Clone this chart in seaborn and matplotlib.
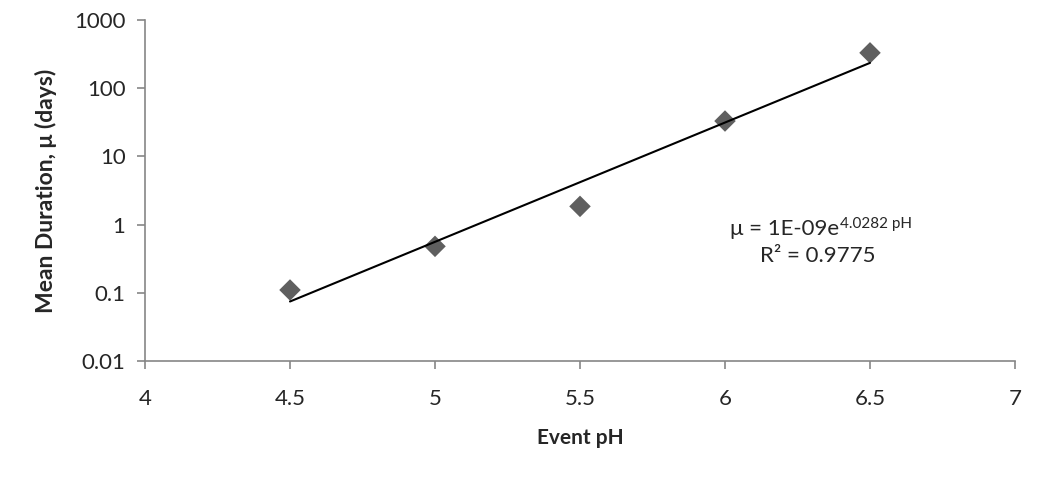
import numpy as np
import pandas as pd
import seaborn as sns
import matplotlib.pyplot as plt
from matplotlib.transforms import offset_copy

# values
ph = [4.5, 5.0, 5.5, 6.0, 6.5]
duration = [0.11, 0.48, 1.85, 33, 330]

# exponential trendline shown on the chart
trend_a = 1e-9
trend_b = 4.0282
r2 = 0.9775

sns.set_style("white")
plt.rcParams['font.family'] = ['Lato', 'DejaVu Sans']

df = pd.DataFrame({"pH": ph, "mu": duration})
xs = np.linspace(ph[0], ph[-1], 100)
trend = pd.DataFrame({"pH": xs, "mu": trend_a * np.exp(trend_b * xs)})

fig = plt.figure(figsize=(10.52, 4.79), dpi=100)
ax = fig.add_axes([145 / 1052, 1 - 361 / 479, 870 / 1052, 341 / 479])

sns.scatterplot(data=df, x="pH", y="mu", marker="D", s=120, color="#5f5f5f",
                edgecolor="none", ax=ax, zorder=2)
sns.lineplot(data=trend, x="pH", y="mu", color="black", linewidth=1.5, ax=ax, zorder=3)

ax.set_yscale("log")
ax.set_xlim(4, 7)
ax.set_ylim(0.01, 1000)
ax.set_xticks([4, 4.5, 5, 5.5, 6, 6.5, 7])
ax.set_xticklabels(["4", "4.5", "5", "5.5", "6", "6.5", "7"])
ax.set_yticks([0.01, 0.1, 1, 10, 100, 1000])
ax.set_yticklabels(["0.01", "0.1", "1", "10", "100", "1000"])
ax.minorticks_off()

for s in ["top", "right"]:
    ax.spines[s].set_visible(False)
for s in ["left", "bottom"]:
    ax.spines[s].set_color("#868686")
    ax.spines[s].set_linewidth(1.2)
ax.tick_params(axis="x", direction="out", length=6, width=1.2, color="#868686",
               pad=14, labelsize=16, bottom=True)
ax.tick_params(axis="y", direction="out", length=6, width=1.2, color="#868686",
               pad=8, labelsize=16, left=True)

ax.set_xlabel("Event pH", fontsize=15, fontweight="bold", labelpad=14)
ax.set_ylabel("Mean Duration, μ (days)", fontsize=16.5, fontweight="bold", labelpad=12)

# trendline equation with superscript exponent
eq = ax.text(6.017, 0.85, "μ = 1E-09e", fontsize=16, ha="left", va="center")
fig.canvas.draw()
bb = eq.get_window_extent()
x_end, y_mid = ax.transData.inverted().transform((bb.x1, (bb.y0 + bb.y1) / 2))
ax.text(x_end, y_mid, "%.4f pH" % trend_b, fontsize=11, ha="left", va="bottom",
        transform=offset_copy(ax.transData, fig=fig, x=1, y=-1, units="points"))
ax.text(6.32, 0.35, "R² = %.4f" % r2, fontsize=16, ha="center", va="center")

fig.savefig("out.png", dpi=100)
